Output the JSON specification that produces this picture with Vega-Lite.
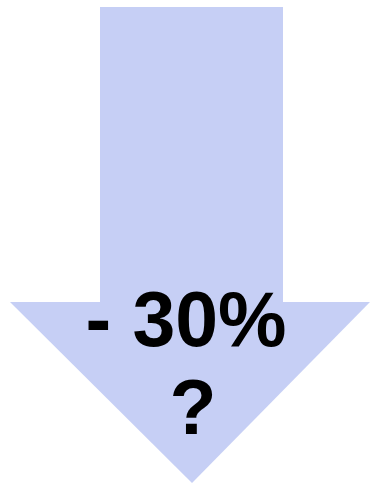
{
  "$schema": "https://vega.github.io/schema/vega-lite/v6.json",
  "width": 370,
  "height": 485,
  "autosize": {"type": "fit", "contains": "padding"},
  "padding": 0,
  "config": {"view": {"stroke": null}},
  "layer": [
    {
      "data": {"values": [{"x": 100, "x2": 283, "y": 7, "y2": 303}]},
      "mark": {"type": "rect", "color": "#C6CFF5"},
      "encoding": {
        "x": {"field": "x", "type": "quantitative", "scale": {"domain": [0, 370], "nice": false, "zero": false}, "axis": null},
        "x2": {"field": "x2"},
        "y": {"field": "y", "type": "quantitative", "scale": {"domain": [0, 485], "nice": false, "zero": false, "reverse": true}, "axis": null},
        "y2": {"field": "y2"}
      }
    },
    {
      "data": {"values": [
        {"x": 10, "top": 302, "bottom": 302},
        {"x": 192, "top": 302, "bottom": 483},
        {"x": 370, "top": 302, "bottom": 302}
      ]},
      "mark": {"type": "area", "color": "#C6CFF5", "interpolate": "linear", "opacity": 1},
      "encoding": {
        "x": {"field": "x", "type": "quantitative"},
        "y": {"field": "top", "type": "quantitative"},
        "y2": {"field": "bottom"}
      }
    },
    {
      "data": {"values": [
        {"label": "- 30%", "x": 186, "y": 346},
        {"label": "?", "x": 193, "y": 434}
      ]},
      "mark": {"type": "text", "font": "Liberation Sans", "fontWeight": "bold", "fontSize": 77, "color": "#000000", "baseline": "alphabetic", "align": "center"},
      "encoding": {
        "x": {"field": "x", "type": "quantitative"},
        "y": {"field": "y", "type": "quantitative"},
        "text": {"field": "label", "type": "nominal"}
      }
    }
  ]
}
